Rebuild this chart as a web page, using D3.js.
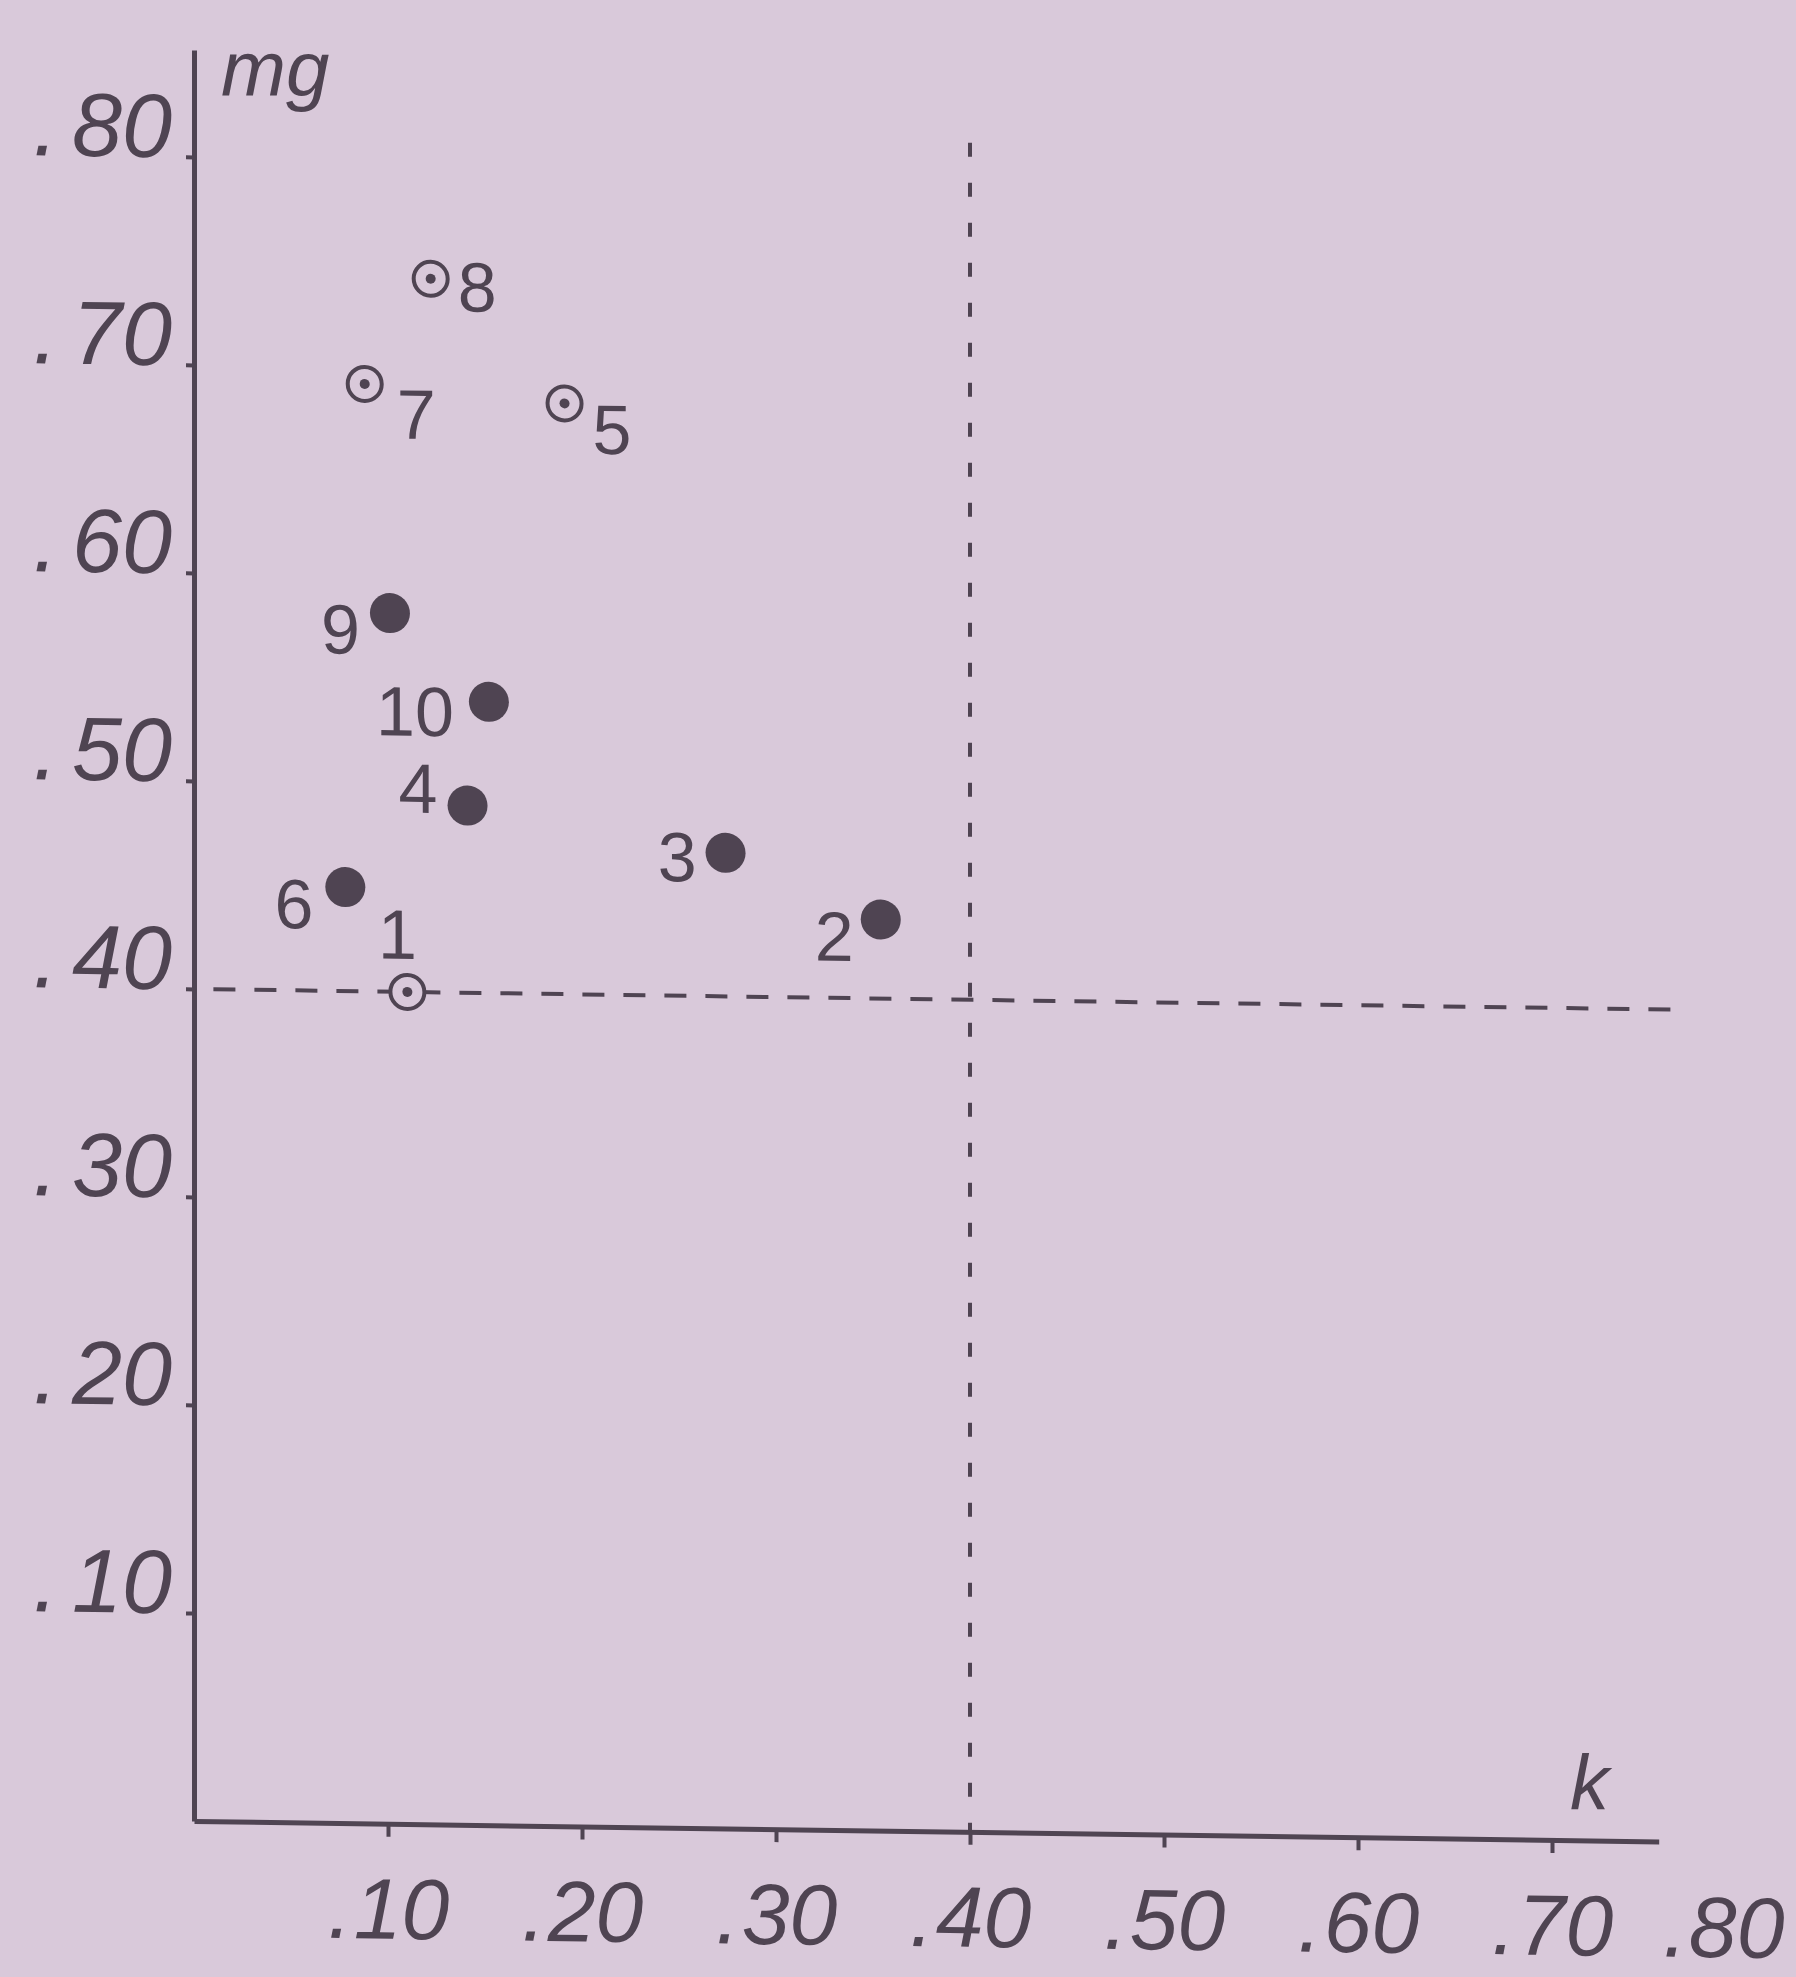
<!DOCTYPE html>
<html lang="en">
<head>
<meta charset="utf-8">
<title>mg - k</title>
<script src="https://cdn.jsdelivr.net/npm/d3@7"></script>
<style>
	body{
		margin: 0;
		background: #d9c9da;
	}
	.tickLabel{
		font-family: "Liberation Sans", sans-serif;
		font-style: italic;
		font-size: 90px;
		fill: #4f4452;
	}
	.xAxis .tickLabel{
		font-size: 86px;
	}
	.pointLabel{
		font-family: "Liberation Sans", sans-serif;
		font-size: 70px;
		fill: #4f4452;
	}
	.axisTitle{
		font-family: "Liberation Sans", sans-serif;
		font-style: italic;
		font-size: 78px;
		fill: #4f4452;
	}
</style>
</head>
<body>
<div class="chart"></div>
<script>

	// samples
	var samples = ["1", "2", "3", "4", "5", "6", "7", "8", "9", "10"];
	var kValues = [0.110, 0.354, 0.274, 0.141, 0.191, 0.078, 0.088, 0.122, 0.101, 0.152];
	var mgValues = [0.400, 0.438, 0.469, 0.490, 0.684, 0.450, 0.692, 0.743, 0.582, 0.540];
	var markType = ["ring", "dot", "dot", "dot", "ring", "dot", "ring", "ring", "dot", "dot"];

	var xTicks = [0.10, 0.20, 0.30, 0.40, 0.50, 0.60, 0.70, 0.80];
	var yTicks = [0.10, 0.20, 0.30, 0.40, 0.50, 0.60, 0.70, 0.80];

	var refK = 0.40;
	var refMg = 0.40;

	var w = 1796;
	var h = 1977;
	var ink = "#4f4452";
	var paper = "#d9c9da";

	// where each number sits next to its mark (px from the centre)
	var labelPos = {
		"1": {dx: -10, dy: -33, anchor: "middle"},
		"2": {dx: -27, dy: 42, anchor: "end"},
		"3": {dx: -29, dy: 29, anchor: "end"},
		"4": {dx: -30, dy: 8, anchor: "end"},
		"5": {dx: 28, dy: 50, anchor: "start"},
		"6": {dx: -32, dy: 42, anchor: "end"},
		"7": {dx: 32, dy: 54, anchor: "start"},
		"8": {dx: 27, dy: 32, anchor: "start"},
		"9": {dx: -30, dy: 41, anchor: "end"},
		"10": {dx: -35, dy: 35, anchor: "end"}
	};

	var dataset = samples.map(function(s, i){
		return {id: s, k: kValues[i], mg: mgValues[i], type: markType[i]};
	});

	var svg = d3.select("div.chart")
				.append("svg")
				.attr("width", w)
				.attr("height", h);

	// the axes run a bit past the last tick (y) or stop short of it (x)
	var xScale = d3.scaleLinear()
				.domain([0, 0.755])
				.range([194, 194 + 0.755 * 1940]);

	var yScale = d3.scaleLinear()
				.domain([0, 0.8514])
				.range([1821, 50]);

	var x0 = xScale(0);

	// the drawing in the photo leans a little
	var plot = svg.append("g")
				.attr("transform", "translate(" + x0 + ",0) skewY(0.8) translate(" + (-x0) + ",0)");

	function splitLabel(sel, gap){
		sel.each(function(d){
			var t = d3.select(this);
			var s = d3.format(".2f")(d).replace("0.", "");
			t.text(null);
			t.append("tspan").text(".");
			t.append("tspan").attr("dx", gap).text(s);
		});
	}

	var xAxis = d3.axisBottom(xScale)
				.tickValues(xTicks)
				.tickSize(13)
				.tickSizeOuter(0);

	var yAxis = d3.axisLeft(yScale)
				.tickValues(yTicks)
				.tickSize(8)
				.tickSizeOuter(0);

	var gx = plot.append("g")
				.attr("class", "xAxis")
				.attr("transform", "translate(0," + yScale(0) + ")")
				.call(xAxis);

	var gy = plot.append("g")
				.attr("class", "yAxis")
				.attr("transform", "translate(" + x0 + ",0)")
				.call(yAxis);

	[gx, gy].forEach(function(g){
		g.select(".domain").attr("stroke", ink).attr("stroke-width", 5);
		g.selectAll(".tick line").attr("stroke", ink).attr("stroke-width", 4);
		g.selectAll(".tick text").attr("class", "tickLabel").attr("fill", null)
			.attr("font-family", null).attr("font-size", null);
	});
	gx.attr("font-size", null).attr("font-family", null);
	gy.attr("font-size", null).attr("font-family", null);

	gx.selectAll(".tick")
		.filter(function(d){ return d > 0.755; })
		.select("line").remove();

	gx.selectAll(".tick text")
		.attr("y", 115)
		.attr("dy", 0)
		.call(splitLabel, 2);

	// last label sits against the right edge of the sheet
	gx.selectAll(".tick text")
		.filter(function(d){ return d > 0.755; })
		.attr("text-anchor", "end")
		.attr("x", 38);

	gy.selectAll(".tick text")
		.attr("x", -22)
		.attr("dy", 0)
		.call(splitLabel, 14);

	// reference lines
	plot.append("line")
		.attr("x1", xScale(refK))
		.attr("x2", xScale(refK))
		.attr("y1", yScale(0.812))
		.attr("y2", yScale(0))
		.attr("stroke", ink)
		.attr("stroke-width", 4)
		.attr("stroke-dasharray", "14,26");

	plot.append("line")
		.attr("x1", xScale(0.01))
		.attr("x2", xScale(0.768))
		.attr("y1", yScale(refMg))
		.attr("y2", yScale(refMg))
		.attr("stroke", ink)
		.attr("stroke-width", 4)
		.attr("stroke-dasharray", "22,19");

	// marks
	var pts = plot.selectAll("g.pt")
				.data(dataset)
				.enter()
				.append("g")
				.attr("class", "pt")
				.attr("transform", function(d){ return "translate(" + xScale(d.k) + "," + yScale(d.mg) + ")"; });

	pts.filter(function(d){ return d.type == "dot"; })
		.append("circle")
		.attr("r", 20)
		.attr("fill", ink);

	var rings = pts.filter(function(d){ return d.type == "ring"; });

	rings.append("circle")
		.attr("r", 17)
		.attr("fill", paper)
		.attr("stroke", ink)
		.attr("stroke-width", 4);

	rings.append("circle")
		.attr("r", 5)
		.attr("fill", ink);

	pts.append("text")
		.attr("class", "pointLabel")
		.attr("x", function(d){ return labelPos[d.id].dx; })
		.attr("y", function(d){ return labelPos[d.id].dy; })
		.attr("text-anchor", function(d){ return labelPos[d.id].anchor; })
		.text(function(d){ return d.id; });

	// axis names
	svg.append("text")
		.attr("class", "axisTitle")
		.attr("x", 221)
		.attr("y", 96)
		.text("mg");

	svg.append("text")
		.attr("class", "axisTitle")
		.attr("x", 1570)
		.attr("y", 1810)
		.text("k");

</script>
</body>
</html>
